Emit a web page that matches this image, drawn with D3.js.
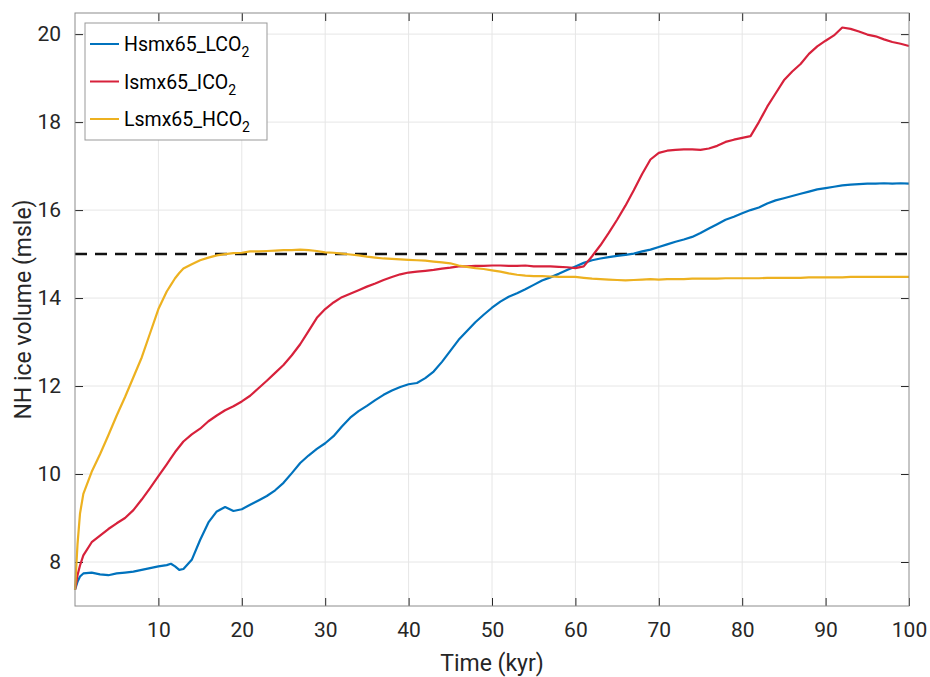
<!DOCTYPE html>
<html>
<head>
<meta charset="utf-8">
<script src="https://cdn.jsdelivr.net/npm/d3@7"></script>
<style>
  body { margin: 0; background: #fff; }
  text { font-family: Roboto, "Noto Sans", sans-serif; }
</style>
</head>
<body>
<svg width="930" height="677"></svg>
<script>
// time axis (kyr)
var time = [0, 0.3, 0.6, 1, 2, 3, 4, 5, 6, 7, 8, 9, 10, 11, 11.5, 12, 12.5, 13, 14, 15,
  16, 17, 18, 19, 20, 21, 22, 23, 24, 25, 26, 27, 28, 29, 30, 31, 32, 33, 34, 35,
  36, 37, 38, 39, 40, 41, 42, 43, 44, 45, 46, 47, 48, 49, 50, 51, 52, 53, 54, 55,
  56, 57, 58, 59, 60, 61, 62, 63, 64, 65, 66, 67, 68, 69, 70, 71, 72, 73, 74, 75,
  76, 77, 78, 79, 80, 81, 82, 83, 84, 85, 86, 87, 88, 89, 90, 91, 92, 93, 94, 95,
  96, 97, 98, 99, 100];

var hsmxL = [7.37, 7.55, 7.67, 7.74, 7.76, 7.72, 7.70, 7.74, 7.76, 7.78, 7.82, 7.86, 7.90, 7.93, 7.96, 7.90, 7.82, 7.84, 8.05, 8.50,
  8.90, 9.15, 9.25, 9.16, 9.20, 9.30, 9.40, 9.50, 9.63, 9.80, 10.02, 10.25, 10.42, 10.57, 10.70, 10.86, 11.08, 11.28, 11.43, 11.55,
  11.68, 11.80, 11.90, 11.98, 12.04, 12.07, 12.18, 12.33, 12.55, 12.80, 13.05, 13.25, 13.45, 13.62, 13.78, 13.92, 14.03, 14.11, 14.20, 14.30,
  14.40, 14.47, 14.55, 14.64, 14.72, 14.80, 14.86, 14.90, 14.93, 14.96, 14.98, 15.01, 15.06, 15.10, 15.16, 15.22, 15.28, 15.33, 15.39, 15.48,
  15.58, 15.68, 15.78, 15.85, 15.93, 16.00, 16.06, 16.15, 16.22, 16.27, 16.32, 16.37, 16.42, 16.47, 16.50, 16.53, 16.56, 16.58, 16.59, 16.60,
  16.60, 16.61, 16.60, 16.61, 16.60];

var ismxI = [7.37, 7.70, 7.92, 8.15, 8.45, 8.60, 8.75, 8.88, 9.00, 9.18, 9.42, 9.68, 9.95, 10.22, 10.36, 10.50, 10.62, 10.74, 10.90, 11.03,
  11.20, 11.33, 11.45, 11.54, 11.65, 11.78, 11.95, 12.12, 12.30, 12.48, 12.70, 12.95, 13.25, 13.55, 13.75, 13.90, 14.02, 14.10, 14.18, 14.26,
  14.33, 14.41, 14.48, 14.54, 14.58, 14.60, 14.62, 14.64, 14.67, 14.69, 14.72, 14.72, 14.73, 14.73, 14.74, 14.74, 14.73, 14.73, 14.74, 14.72,
  14.72, 14.72, 14.71, 14.70, 14.68, 14.72, 14.95, 15.20, 15.48, 15.78, 16.10, 16.45, 16.82, 17.15, 17.30, 17.35, 17.37, 17.38, 17.38, 17.37,
  17.40, 17.46, 17.55, 17.60, 17.64, 17.68, 18.00, 18.35, 18.65, 18.95, 19.15, 19.32, 19.55, 19.72, 19.85, 19.97, 20.15, 20.12, 20.06, 19.99,
  19.95, 19.88, 19.82, 19.78, 19.73];

var lsmxH = [7.37, 8.40, 9.10, 9.55, 10.05, 10.45, 10.88, 11.33, 11.75, 12.20, 12.65, 13.20, 13.75, 14.15, 14.30, 14.45, 14.57, 14.67, 14.77, 14.86,
  14.92, 14.97, 15.00, 15.02, 15.03, 15.06, 15.06, 15.07, 15.08, 15.09, 15.09, 15.10, 15.09, 15.07, 15.04, 15.03, 15.01, 14.99, 14.97, 14.94,
  14.92, 14.90, 14.89, 14.88, 14.87, 14.86, 14.85, 14.83, 14.81, 14.79, 14.74, 14.71, 14.68, 14.66, 14.63, 14.60, 14.56, 14.53, 14.51, 14.50,
  14.50, 14.49, 14.48, 14.48, 14.48, 14.46, 14.44, 14.43, 14.42, 14.41, 14.40, 14.41, 14.42, 14.43, 14.42, 14.43, 14.43, 14.43, 14.44, 14.44,
  14.44, 14.44, 14.45, 14.45, 14.45, 14.45, 14.45, 14.46, 14.46, 14.46, 14.46, 14.46, 14.47, 14.47, 14.47, 14.47, 14.47, 14.48, 14.48, 14.48,
  14.48, 14.48, 14.48, 14.48, 14.48];

var seriesNames = ["Hsmx65_LCO", "Ismx65_ICO", "Lsmx65_HCO"];
var seriesColors = ["#0072BD", "#D7213B", "#EDB120"];
var xTicks = [10, 20, 30, 40, 50, 60, 70, 80, 90, 100];
var yTicks = [8, 10, 12, 14, 16, 18, 20];
var threshold = 15;

var svg = d3.select("svg"),
    margin = {left: 75, right: 21, top: 13, bottom: 71},
    width = +svg.attr("width") - margin.left - margin.right,
    height = +svg.attr("height") - margin.top - margin.bottom;

var x = d3.scaleLinear().domain([0, 100]).range([0, width]);
var y = d3.scaleLinear().domain([7, 20.48]).range([height, 0]);

var g = svg.append("g").attr("transform", "translate(" + margin.left + "," + margin.top + ")");

// grid
g.append("g").selectAll("line").data(xTicks.filter(d => d < 100)).enter().append("line")
    .attr("x1", d => x(d)).attr("x2", d => x(d)).attr("y1", 0).attr("y2", height)
    .attr("stroke", "#e6e6e6").attr("stroke-width", 1);
g.append("g").selectAll("line").data(yTicks).enter().append("line")
    .attr("x1", 0).attr("x2", width).attr("y1", d => y(d)).attr("y2", d => y(d))
    .attr("stroke", "#e6e6e6").attr("stroke-width", 1);

// axes with inward ticks
function styleAxis(sel){
    sel.select(".domain").remove();
    sel.selectAll(".tick line").attr("stroke", "#262626");
    sel.selectAll(".tick text").attr("fill", "#262626").style("font-size", "21px");
}
g.append("g").attr("transform", "translate(0," + height + ")")
    .call(d3.axisBottom(x).tickValues(xTicks).tickSize(-8).tickPadding(16))
    .call(styleAxis);
g.append("g")
    .call(d3.axisLeft(y).tickValues(yTicks).tickSize(-8).tickPadding(14))
    .call(styleAxis);
g.append("g")
    .call(d3.axisTop(x).tickValues(xTicks).tickSize(-8).tickFormat(""))
    .call(styleAxis);
g.append("g").attr("transform", "translate(" + width + ",0)")
    .call(d3.axisRight(y).tickValues(yTicks).tickSize(-8).tickFormat(""))
    .call(styleAxis);

// threshold line
g.append("line")
    .attr("x1", x(0)).attr("x2", x(100))
    .attr("y1", y(threshold)).attr("y2", y(threshold))
    .attr("stroke", "#111").attr("stroke-width", 2.5)
    .attr("stroke-dasharray", "12,8");

var line = d3.line().x((d, i) => x(time[i])).y(d => y(d));
[hsmxL, ismxI, lsmxH].forEach(function(vals, k){
    g.append("path").datum(vals)
        .attr("fill", "none")
        .attr("stroke", seriesColors[k])
        .attr("stroke-width", 2.2)
        .attr("stroke-linejoin", "round")
        .attr("d", line);
});

// frame
g.append("rect").attr("width", width).attr("height", height)
    .attr("fill", "none").attr("stroke", "#8c8c8c").attr("stroke-width", 1);

// axis labels
svg.append("text")
    .attr("x", margin.left + width / 2).attr("y", 671)
    .attr("text-anchor", "middle").attr("fill", "#262626")
    .style("font-size", "23px").text("Time (kyr)");
svg.append("text")
    .attr("transform", "translate(31," + (margin.top + height / 2) + ") rotate(-90)")
    .attr("text-anchor", "middle").attr("fill", "#262626")
    .style("font-size", "23px").text("NH ice volume (msle)");

// legend
var leg = svg.append("g").attr("transform", "translate(85,23)");
leg.append("rect").attr("width", 182).attr("height", 117)
    .attr("fill", "#fff").attr("stroke", "#999").attr("stroke-width", 1);
seriesNames.forEach(function(name, k){
    var yy = 21 + k * 37.5;
    leg.append("line").attr("x1", 5).attr("x2", 34).attr("y1", yy).attr("y2", yy)
        .attr("stroke", seriesColors[k]).attr("stroke-width", 2);
    var t = leg.append("text").attr("x", 39).attr("y", yy + 7)
        .attr("fill", "#000").style("font-size", "19.5px");
    t.append("tspan").text(name);
    t.append("tspan").attr("dy", 6).style("font-size", "14px").text("2");
});
</script>
</body>
</html>
